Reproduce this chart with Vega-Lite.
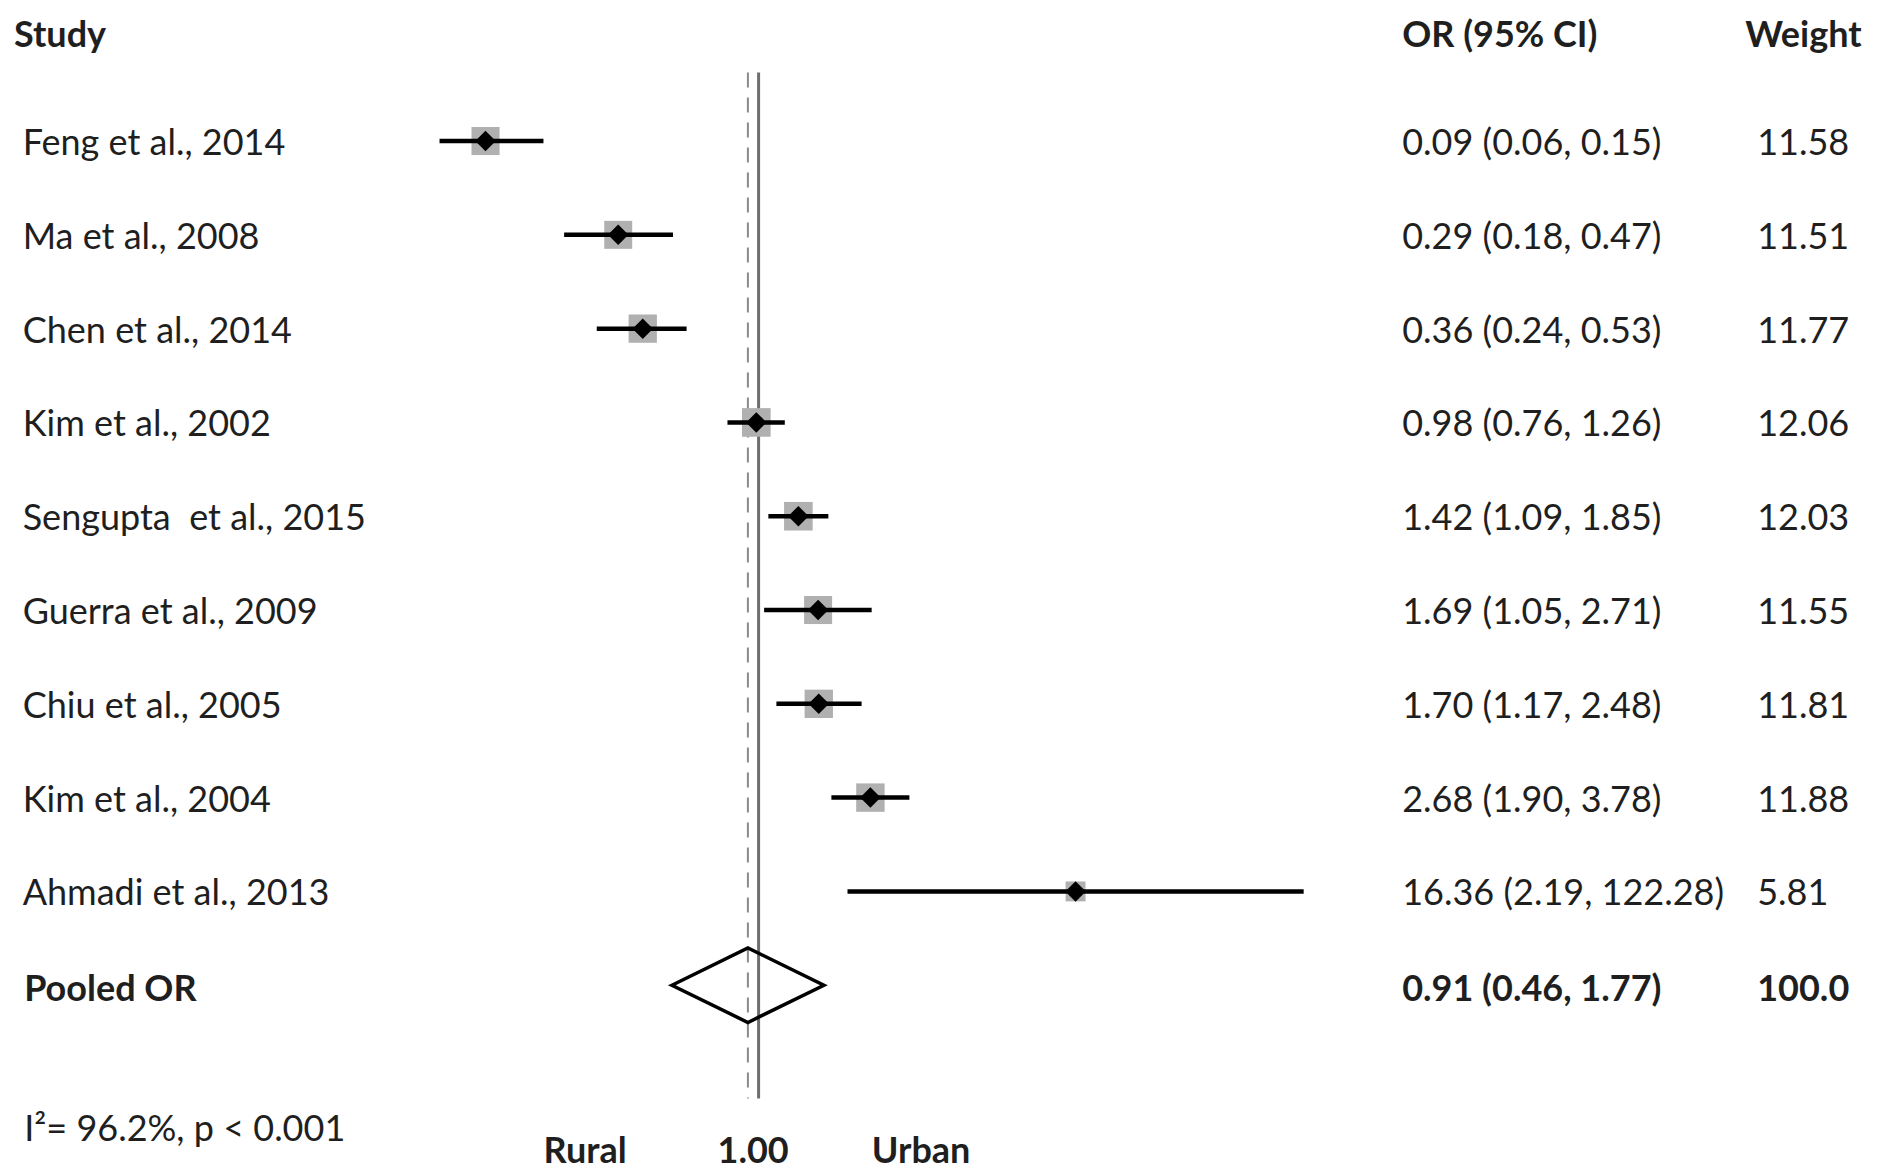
{
  "$schema": "https://vega.github.io/schema/vega-lite/v6.json",
  "width": 1877,
  "height": 1171,
  "autosize": {"type": "fit", "contains": "padding"},
  "padding": 0,
  "background": "white",
  "config": {
    "view": {"stroke": null},
    "text": {"font": "Lato", "fontSize": 36, "color": "#1f1f1f", "baseline": "middle"}
  },
  "datasets": {
    "studies": [
      {"row": 1, "study": "Feng et al., 2014", "or": 0.09, "lo": 0.06, "hi": 0.15, "ci": "0.09 (0.06, 0.15)", "w": 11.58},
      {"row": 2, "study": "Ma et al., 2008", "or": 0.29, "lo": 0.18, "hi": 0.47, "ci": "0.29 (0.18, 0.47)", "w": 11.51},
      {"row": 3, "study": "Chen et al., 2014", "or": 0.36, "lo": 0.24, "hi": 0.53, "ci": "0.36 (0.24, 0.53)", "w": 11.77},
      {"row": 4, "study": "Kim et al., 2002", "or": 0.98, "lo": 0.76, "hi": 1.26, "ci": "0.98 (0.76, 1.26)", "w": 12.06},
      {"row": 5, "study": "Sengupta\u00a0 et al., 2015", "or": 1.42, "lo": 1.09, "hi": 1.85, "ci": "1.42 (1.09, 1.85)", "w": 12.03},
      {"row": 6, "study": "Guerra et al., 2009", "or": 1.69, "lo": 1.05, "hi": 2.71, "ci": "1.69 (1.05, 2.71)", "w": 11.55},
      {"row": 7, "study": "Chiu et al., 2005", "or": 1.70, "lo": 1.17, "hi": 2.48, "ci": "1.70 (1.17, 2.48)", "w": 11.81},
      {"row": 8, "study": "Kim et al., 2004", "or": 2.68, "lo": 1.90, "hi": 3.78, "ci": "2.68 (1.90, 3.78)", "w": 11.88},
      {"row": 9, "study": "Ahmadi et al., 2013", "or": 16.36, "lo": 2.19, "hi": 122.28, "ci": "16.36 (2.19, 122.28)", "w": 5.81}
    ],
    "pooled": [
      {"row": 10, "study": "Pooled OR", "or": 0.91, "lo": 0.46, "hi": 1.77, "ci": "0.91 (0.46, 1.77)", "w": 100.0}
    ],
    "one": [{}]
  },
  "layer": [
    {
      "data": {"name": "pooled"},
      "mark": {"type": "rule", "color": "#8a8a8a", "strokeWidth": 2, "strokeDash": [15, 10]},
      "encoding": {
        "x": {"field": "or", "type": "quantitative", "scale": {"type": "log", "domain": [0.0012443, 19185], "nice": false}, "axis": null},
        "y": {"datum": 0.2694, "type": "quantitative", "scale": {"domain": [-0.5036, 11.8954], "reverse": true, "nice": false, "zero": false}, "axis": null},
        "y2": {"datum": 11.207}
      }
    },
    {
      "data": {"name": "one"},
      "mark": {"type": "rule", "color": "#6e6e6e", "strokeWidth": 3},
      "encoding": {
        "x": {"datum": 1, "type": "quantitative"},
        "y": {"datum": 0.2694, "type": "quantitative"},
        "y2": {"datum": 11.207}
      }
    },
    {
      "data": {"name": "studies"},
      "mark": {"type": "point", "shape": "square", "filled": true, "color": "#b0b0b0", "opacity": 1},
      "encoding": {
        "x": {"field": "or", "type": "quantitative"},
        "y": {"field": "row", "type": "quantitative"},
        "size": {"field": "w", "type": "quantitative", "scale": {"domain": [0, 12.06], "range": [0, 820], "zero": true}, "legend": null}
      }
    },
    {
      "data": {"name": "studies"},
      "mark": {"type": "rule", "color": "black", "strokeWidth": 4.5},
      "encoding": {
        "x": {"field": "lo", "type": "quantitative"},
        "x2": {"field": "hi"},
        "y": {"field": "row", "type": "quantitative"}
      }
    },
    {
      "data": {"name": "studies"},
      "mark": {"type": "point", "shape": "diamond", "filled": true, "color": "black", "size": 420, "opacity": 1},
      "encoding": {
        "x": {"field": "or", "type": "quantitative"},
        "y": {"field": "row", "type": "quantitative"}
      }
    },
    {
      "data": {"name": "pooled"},
      "mark": {"type": "point", "shape": "M -1 0 L 0 -0.49 L 1 0 L 0 0.49 Z", "filled": false, "stroke": "black", "strokeWidth": 3.5, "size": 23104, "opacity": 1},
      "encoding": {
        "x": {"field": "or", "type": "quantitative"},
        "y": {"field": "row", "type": "quantitative"}
      }
    },
    {
      "data": {"name": "studies"},
      "mark": {"type": "text", "align": "left", "dy": 3},
      "encoding": {
        "x": {"datum": 0.00152, "type": "quantitative"},
        "y": {"field": "row", "type": "quantitative"},
        "text": {"field": "study"}
      }
    },
    {
      "data": {"name": "studies"},
      "mark": {"type": "text", "align": "left", "dy": 3},
      "encoding": {
        "x": {"datum": 291.5, "type": "quantitative"},
        "y": {"field": "row", "type": "quantitative"},
        "text": {"field": "ci"}
      }
    },
    {
      "data": {"name": "studies"},
      "mark": {"type": "text", "align": "left", "dy": 3},
      "encoding": {
        "x": {"datum": 6672, "type": "quantitative"},
        "y": {"field": "row", "type": "quantitative"},
        "text": {"field": "w", "format": ".2f"}
      }
    },
    {
      "data": {"name": "pooled"},
      "mark": {"type": "text", "align": "left", "fontWeight": "bold", "dy": 5},
      "encoding": {
        "x": {"datum": 0.00154, "type": "quantitative"},
        "y": {"field": "row", "type": "quantitative"},
        "text": {"field": "study"}
      }
    },
    {
      "data": {"name": "pooled"},
      "mark": {"type": "text", "align": "left", "fontWeight": "bold", "dy": 5},
      "encoding": {
        "x": {"datum": 291.5, "type": "quantitative"},
        "y": {"field": "row", "type": "quantitative"},
        "text": {"field": "ci"}
      }
    },
    {
      "data": {"name": "pooled"},
      "mark": {"type": "text", "align": "left", "fontWeight": "bold", "dy": 5},
      "encoding": {
        "x": {"datum": 6672, "type": "quantitative"},
        "y": {"field": "row", "type": "quantitative"},
        "text": {"field": "w", "format": ".1f"}
      }
    },
    {
      "data": {"name": "one"},
      "mark": {"type": "text", "align": "left", "fontWeight": "bold", "text": "Study", "dy": 4},
      "encoding": {
        "x": {"datum": 0.001408, "type": "quantitative"},
        "y": {"datum": -0.1648, "type": "quantitative"}
      }
    },
    {
      "data": {"name": "one"},
      "mark": {"type": "text", "align": "left", "fontWeight": "bold", "text": "OR (95% CI)", "dy": 4},
      "encoding": {
        "x": {"datum": 291.5, "type": "quantitative"},
        "y": {"datum": -0.1648, "type": "quantitative"}
      }
    },
    {
      "data": {"name": "one"},
      "mark": {"type": "text", "align": "left", "fontWeight": "bold", "text": "Weight", "dy": 4},
      "encoding": {
        "x": {"datum": 6000, "type": "quantitative"},
        "y": {"datum": -0.1648, "type": "quantitative"}
      }
    },
    {
      "data": {"name": "one"},
      "mark": {"type": "text", "align": "left", "text": "I²= 96.2%, p < 0.001", "dy": 5},
      "encoding": {
        "x": {"datum": 0.00154, "type": "quantitative"},
        "y": {"datum": 11.493, "type": "quantitative"}
      }
    },
    {
      "data": {"name": "one"},
      "mark": {"type": "text", "align": "center", "fontWeight": "bold", "text": "Rural", "dy": 7},
      "encoding": {
        "x": {"datum": 0.2165, "type": "quantitative"},
        "y": {"datum": 11.705, "type": "quantitative"}
      }
    },
    {
      "data": {"name": "one"},
      "mark": {"type": "text", "align": "center", "fontWeight": "bold", "text": "1.00", "dy": 7},
      "encoding": {
        "x": {"datum": 0.9527, "type": "quantitative"},
        "y": {"datum": 11.705, "type": "quantitative"}
      }
    },
    {
      "data": {"name": "one"},
      "mark": {"type": "text", "align": "center", "fontWeight": "bold", "text": "Urban", "dy": 7},
      "encoding": {
        "x": {"datum": 4.191, "type": "quantitative"},
        "y": {"datum": 11.705, "type": "quantitative"}
      }
    }
  ]
}
